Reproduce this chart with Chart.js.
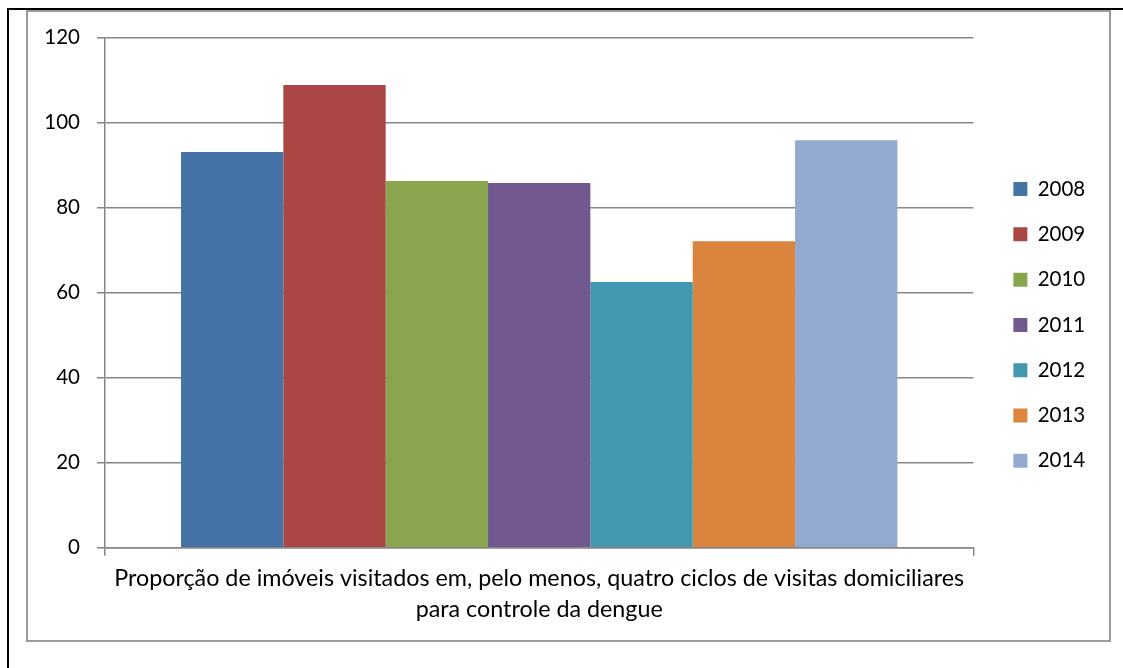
<!DOCTYPE html>
<html><head><meta charset="utf-8">
<script src="https://cdn.jsdelivr.net/npm/chart.js@4"></script>
<style>
html,body{margin:0;padding:0;background:#fff;}
body{width:1123px;height:668px;position:relative;overflow:hidden;}
#topline{position:absolute;left:7px;top:8px;width:1116px;height:2px;background:#000;}
#leftline{position:absolute;left:7px;top:8px;width:2px;height:660px;background:#000;}
#frame{position:absolute;left:26px;top:10px;width:1081px;height:628px;border:2px solid #9a9a9a;}
#c{display:block;}
</style></head>
<body>
<div id="topline"></div><div id="leftline"></div>
<div id="frame"><canvas id="c" width="1081" height="628"></canvas></div>
<script>
const categoryLabel = ['Proporção de imóveis visitados em, pelo menos, quatro ciclos de visitas domiciliares', 'para controle da dengue'];
const years = ['2008', '2009', '2010', '2011', '2012', '2013', '2014'];
const values = [93.1, 108.9, 86.3, 85.8, 62.5, 72.1, 95.9];
const yMin = 0, yMax = 120, yStep = 20;

const colors = ['#4572A7', '#AA4643', '#89A54E', '#71588F', '#4198AF', '#DB843D', '#93A9CF'];
const FONT = 'Lato, "Open Sans", sans-serif';
const gridColor = '#868686';

new Chart(document.getElementById('c'), {
  type: 'bar',
  data: {
    labels: [categoryLabel],
    datasets: years.map((y, i) => ({
      label: y,
      data: [values[i]],
      backgroundColor: colors[i],
      borderWidth: 0,
      categoryPercentage: 0.825,
      barPercentage: 1
    }))
  },
  options: {
    responsive: false,
    devicePixelRatio: 1,
    animation: false,
    events: [],
    layout: { padding: { left: 0, top: 25.7, right: 13.8, bottom: 2 } },
    plugins: {
      tooltip: { enabled: false },
      legend: {
        position: 'right',
        align: 'start',
        title: { display: true, text: '', font: { size: 10, lineHeight: '0px' }, padding: { top: 116.3, bottom: 0 } },
        labels: {
          boxWidth: 14, boxHeight: 14, padding: 24.8, color: '#000',
          font: { family: FONT, size: 20.5 }
        }
      }
    },
    scales: {
      x: {
        grid: { display: true, drawOnChartArea: false, drawTicks: true, tickLength: 8, color: gridColor, lineWidth: 1.5, offset: true },
        border: { display: true, color: gridColor, width: 1.5 },
        ticks: { color: '#000', padding: 6.8, maxRotation: 0, minRotation: 0, autoSkip: false,
          font: { family: FONT, size: 23.3, lineHeight: '31px' } },
        afterFit: s => { s.height = 90.3; }
      },
      y: {
        min: yMin, max: yMax,
        grid: { color: gridColor, lineWidth: 1.5, drawTicks: true, tickLength: 8 },
        border: { display: true, color: gridColor, width: 1.5 },
        ticks: { stepSize: yStep, color: '#000', padding: 17, font: { family: FONT, size: 20.5 } },
        afterFit: s => { s.width = 77; s.paddingTop = 0; s.paddingBottom = 0; }
      },
      gap: {
        type: 'linear', position: 'right', display: true,
        grid: { display: false, drawTicks: false }, border: { display: false },
        ticks: { display: false },
        afterFit: s => { s.width = 15.2; }
      }
    }
  }
});
</script>
</body></html>
